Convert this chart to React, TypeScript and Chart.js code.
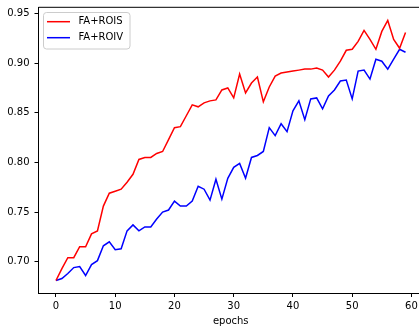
import React, { useEffect, useRef } from "react";
import { Chart, registerables } from "chart.js";

Chart.register(...registerables);

const epochs = [
  0, 1, 2, 3, 4, 5, 6, 7, 8, 9, 10, 11, 12, 13, 14, 15, 16, 17, 18, 19,
  20, 21, 22, 23, 24, 25, 26, 27, 28, 29, 30, 31, 32, 33, 34, 35, 36, 37, 38, 39,
  40, 41, 42, 43, 44, 45, 46, 47, 48, 49, 50, 51, 52, 53, 54, 55, 56, 57, 58, 59,
];

const faRois = [
  0.681, 0.693, 0.704, 0.704, 0.715, 0.715, 0.728, 0.731, 0.756, 0.769,
  0.771, 0.773, 0.780, 0.788, 0.803, 0.805, 0.805, 0.809, 0.811, 0.823,
  0.835, 0.836, 0.847, 0.858, 0.856, 0.860, 0.862, 0.863, 0.873, 0.875,
  0.865, 0.889, 0.870, 0.880, 0.886, 0.861, 0.876, 0.887, 0.890, 0.891,
  0.892, 0.893, 0.894, 0.894, 0.895, 0.893, 0.886, 0.893, 0.902, 0.913,
  0.914, 0.922, 0.933, 0.924, 0.914, 0.932, 0.943, 0.924, 0.915, 0.931,
];

const faRoiv = [
  0.681, 0.683, 0.688, 0.694, 0.695, 0.686, 0.697, 0.701, 0.716, 0.720,
  0.712, 0.713, 0.731, 0.737, 0.731, 0.735, 0.735, 0.743, 0.750, 0.752,
  0.761, 0.756, 0.756, 0.761, 0.776, 0.773, 0.762, 0.783, 0.763, 0.784,
  0.795, 0.799, 0.784, 0.805, 0.807, 0.811, 0.835, 0.827, 0.839, 0.831,
  0.852, 0.862, 0.843, 0.864, 0.865, 0.854, 0.867, 0.873, 0.882, 0.883,
  0.864, 0.892, 0.893, 0.884, 0.904, 0.902, 0.894, 0.904, 0.914, 0.911,
];

const seriesLabels = ["FA+ROIS", "FA+ROIV"];
const seriesColors = ["#ff0000", "#0000ff"];
const xTicks = [0, 10, 20, 30, 40, 50, 60];
const yTicks = [0.7, 0.75, 0.8, 0.85, 0.9, 0.95];

const FONT = "'DejaVu Sans', sans-serif";

const framePlugin = {
  id: "frame",
  afterDraw(chart: any) {
    const { ctx, chartArea } = chart;
    ctx.save();
    ctx.strokeStyle = "#000";
    ctx.lineWidth = 1;
    ctx.beginPath();
    ctx.moveTo(chartArea.left, chartArea.top);
    ctx.lineTo(chartArea.right, chartArea.top);
    ctx.lineTo(chartArea.right, chartArea.bottom);
    ctx.stroke();
    ctx.restore();
  },
};

const legendPlugin = {
  id: "mplLegend",
  afterDraw(chart: any) {
    const { ctx } = chart;
    const x = 43.5;
    const y = 12.5;
    const w = 86.5;
    const h = 36.5;
    const r = 3;
    ctx.save();
    ctx.beginPath();
    ctx.moveTo(x + r, y);
    ctx.lineTo(x + w - r, y);
    ctx.quadraticCurveTo(x + w, y, x + w, y + r);
    ctx.lineTo(x + w, y + h - r);
    ctx.quadraticCurveTo(x + w, y + h, x + w - r, y + h);
    ctx.lineTo(x + r, y + h);
    ctx.quadraticCurveTo(x, y + h, x, y + h - r);
    ctx.lineTo(x, y + r);
    ctx.quadraticCurveTo(x, y, x + r, y);
    ctx.closePath();
    ctx.fillStyle = "rgba(255,255,255,0.8)";
    ctx.fill();
    ctx.strokeStyle = "#cccccc";
    ctx.lineWidth = 1;
    ctx.stroke();
    ctx.font = `10px ${FONT}`;
    ctx.textBaseline = "middle";
    ctx.textAlign = "left";
    chart.data.datasets.forEach((ds: any, i: number) => {
      const ly = 21.7 + i * 16;
      ctx.strokeStyle = ds.borderColor;
      ctx.lineWidth = 1.5;
      ctx.beginPath();
      ctx.moveTo(47, ly);
      ctx.lineTo(70, ly);
      ctx.stroke();
      ctx.fillStyle = "#000";
      ctx.fillText(ds.label, 78.5, ly);
    });
    ctx.restore();
  },
};

export default function App() {
  const ref = useRef<HTMLCanvasElement | null>(null);

  useEffect(() => {
    if (!ref.current) return;
    const mk = (vals: number[]) => epochs.map((e, i) => ({ x: e, y: vals[i] }));
    const chart = new Chart(ref.current, {
      type: "line",
      data: {
        datasets: [
          {
            label: seriesLabels[0],
            data: mk(faRois),
            borderColor: seriesColors[0],
            backgroundColor: seriesColors[0],
            borderWidth: 1.5,
            pointRadius: 0,
            tension: 0,
            fill: false,
          },
          {
            label: seriesLabels[1],
            data: mk(faRoiv),
            borderColor: seriesColors[1],
            backgroundColor: seriesColors[1],
            borderWidth: 1.5,
            pointRadius: 0,
            tension: 0,
            fill: false,
          },
        ],
      },
      options: {
        animation: false,
        responsive: false,
        devicePixelRatio: 1,
        layout: { padding: { top: 7.3, left: 0, right: 0, bottom: 0 } },
        plugins: {
          legend: { display: false },
          tooltip: { enabled: false },
        },
        scales: {
          x: {
            type: "linear",
            min: -2.95,
            max: 61.95,
            afterBuildTicks: (s: any) => {
              s.ticks = xTicks.map((v) => ({ value: v }));
            },
            afterFit: (s: any) => {
              s.height = 36;
              s.paddingLeft = 0;
              s.paddingRight = 0;
            },
            grid: {
              display: true,
              drawOnChartArea: false,
              drawTicks: true,
              tickLength: 4,
              tickColor: "#000",
            },
            border: { display: true, color: "#000", width: 1 },
            ticks: {
              color: "#000",
              font: { family: FONT, size: 10 },
              padding: 3,
              maxRotation: 0,
              autoSkip: false,
              callback: (v: any) => String(v),
            },
            title: {
              display: true,
              text: "epochs",
              color: "#000",
              font: { family: FONT, size: 10 },
              padding: { top: 0, bottom: 2 },
            },
          },
          y: {
            type: "linear",
            min: 0.6684,
            max: 0.9563,
            afterBuildTicks: (s: any) => {
              s.ticks = yTicks.map((v) => ({ value: v }));
            },
            afterFit: (s: any) => {
              s.width = 38.5;
              s.paddingTop = 0;
              s.paddingBottom = 0;
            },
            grid: {
              display: true,
              drawOnChartArea: false,
              drawTicks: true,
              tickLength: 4,
              tickColor: "#000",
            },
            border: { display: true, color: "#000", width: 1 },
            ticks: {
              color: "#000",
              font: { family: FONT, size: 10 },
              padding: 5,
              autoSkip: false,
              callback: (v: any) => Number(v).toFixed(2),
            },
          },
        },
      },
      plugins: [framePlugin, legendPlugin],
    });
    return () => chart.destroy();
  }, []);

  return (
    <div
      style={{
        position: "fixed",
        left: 0,
        top: 0,
        width: 419,
        height: 329,
        overflow: "hidden",
        background: "#fff",
      }}
    >
      <canvas ref={ref} width={423} height={329} style={{ display: "block" }} />
    </div>
  );
}
